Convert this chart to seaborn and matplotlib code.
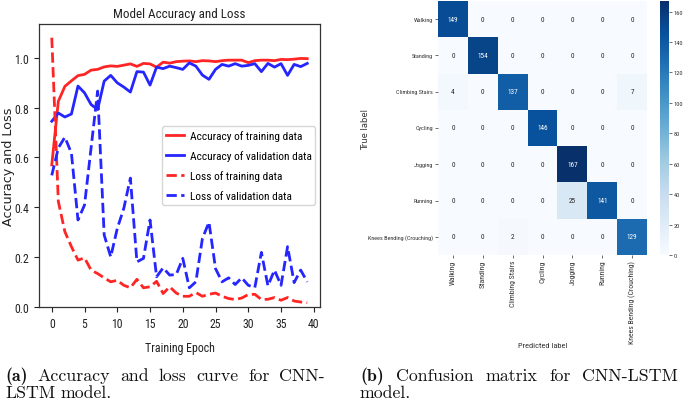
import matplotlib
matplotlib.use("Agg")
import matplotlib.pyplot as plt
from matplotlib import font_manager as fm
import numpy as np
import pandas as pd
import seaborn as sns

# ---------------- data ----------------
epochs = list(range(40))
train_acc = [0.57, 0.825, 0.885, 0.907, 0.928, 0.933, 0.950, 0.953, 0.963, 0.967,
             0.965, 0.970, 0.975, 0.965, 0.977, 0.975, 0.962, 0.982, 0.978, 0.984,
             0.986, 0.987, 0.984, 0.988, 0.987, 0.984, 0.988, 0.990, 0.990, 0.990,
             0.980, 0.988, 0.990, 0.990, 0.988, 0.993, 0.992, 0.994, 0.997, 0.996]
val_acc = [0.745, 0.778, 0.762, 0.774, 0.886, 0.859, 0.812, 0.792, 0.906, 0.929,
           0.899, 0.882, 0.862, 0.944, 0.942, 0.890, 0.962, 0.956, 0.966, 0.960,
           0.953, 0.979, 0.966, 0.930, 0.913, 0.953, 0.973, 0.966, 0.976, 0.966,
           0.969, 0.976, 0.944, 0.977, 0.962, 0.976, 0.929, 0.973, 0.964, 0.977]
train_loss = [1.08, 0.423, 0.302, 0.242, 0.188, 0.197, 0.148, 0.134, 0.117, 0.101,
              0.107, 0.087, 0.077, 0.111, 0.077, 0.081, 0.103, 0.054, 0.081, 0.056,
              0.043, 0.043, 0.058, 0.043, 0.051, 0.056, 0.043, 0.034, 0.030, 0.036,
              0.050, 0.051, 0.030, 0.031, 0.038, 0.027, 0.038, 0.024, 0.020, 0.017]
val_loss = [0.528, 0.638, 0.681, 0.617, 0.349, 0.409, 0.638, 0.866, 0.289, 0.201,
            0.315, 0.396, 0.517, 0.181, 0.195, 0.349, 0.121, 0.157, 0.128, 0.130,
            0.195, 0.077, 0.101, 0.275, 0.340, 0.154, 0.101, 0.117, 0.090, 0.117,
            0.087, 0.078, 0.219, 0.085, 0.148, 0.087, 0.242, 0.098, 0.148, 0.101]

classes = ["Walking", "Standing", "Climbing Stairs", "Cycling", "Jogging",
           "Running", "Knees Bending (Crouching)"]
cm_walking = [149, 0, 0, 0, 0, 0, 0]
cm_standing = [0, 154, 0, 0, 0, 0, 0]
cm_climbing = [4, 0, 137, 0, 0, 0, 7]
cm_cycling = [0, 0, 0, 146, 0, 0, 0]
cm_jogging = [0, 0, 0, 0, 167, 0, 0]
cm_running = [0, 0, 0, 0, 25, 141, 0]
cm_knees = [0, 0, 2, 0, 0, 0, 129]
cbar_ticks = [0, 20, 40, 60, 80, 100, 120, 140, 160]
x_ticks = [0, 5, 10, 15, 20, 25, 30, 35, 40]

# ---------------- fonts: look for a narrow sans face ----------------
narrow_family, narrow_stretch = None, "normal"
names = {f.name for f in fm.fontManager.ttflist}
for n in ["Liberation Sans Narrow", "DejaVu Sans Condensed", "Roboto Condensed",
          "Open Sans Condensed", "Noto Sans Condensed", "Arial Narrow"]:
    if n in names:
        narrow_family = n
        break
if narrow_family is None:
    for f in fm.fontManager.ttflist:
        if str(f.stretch) in ("condensed", "semi-condensed", "extra-condensed") \
                and f.style == "normal" and str(f.weight) in ("400", "normal"):
            narrow_family, narrow_stretch = f.name, f.stretch
            break
SANS = [narrow_family, "DejaVu Sans"] if narrow_family else ["DejaVu Sans"]
scale = 1.0 if narrow_family else 0.82
plt.rcParams["font.family"] = SANS
plt.rcParams["font.stretch"] = narrow_stretch

RED = "#ff2525"
BLUE = "#2525ff"

W, H = 685, 402
fig = plt.figure(figsize=(W / 100, H / 100), dpi=100)


def box(x0, y0, x1, y1):
    return [x0 / W, 1 - y1 / H, (x1 - x0) / W, (y1 - y0) / H]


# ---------------- left: curves ----------------
ax = fig.add_axes(box(39, 25, 320, 308))
sns.lineplot(x=epochs, y=train_acc, color=RED, lw=2, label="Accuracy of training data", ax=ax)
sns.lineplot(x=epochs, y=val_acc, color=BLUE, lw=2, label="Accuracy of validation data", ax=ax)
sns.lineplot(x=epochs, y=train_loss, color=RED, lw=2, linestyle="--", label="Loss of training data", ax=ax)
sns.lineplot(x=epochs, y=val_loss, color=BLUE, lw=2, linestyle="--", label="Loss of validation data", ax=ax)
ax.set_ylim(0, 1.135)
ax.set_xlim(-1.95, 40.95)
ax.set_xticks(x_ticks)
ax.set_yticks([0.0, 0.2, 0.4, 0.6, 0.8, 1.0])
ax.set_yticklabels(["0.0", "0.2", "0.4", "0.6", "0.8", "1.0"])
ax.tick_params(labelsize=8.5 * scale, length=3.5, width=0.8, colors="#222222")
for s in ax.spines.values():
    s.set_color("#333333")
    s.set_linewidth(0.9)
ax.set_title("Model Accuracy and Loss", fontsize=9.4 * scale, pad=5, color="#222222")
ax.set_xlabel("Training Epoch", fontsize=8.6 * scale, labelpad=8, color="#222222")
ax.set_ylabel("Accuracy and Loss", fontsize=9.2, family="DejaVu Sans",
              fontstretch="normal", color="#222222")
ax.yaxis.set_label_coords(-(39 - 15.5) / 281, 0.5)
leg = ax.legend(loc="center right", fontsize=8.2 * scale, frameon=True, borderpad=0.35,
                handlelength=1.65, handletextpad=0.45, labelspacing=0.8, fancybox=True,
                borderaxespad=0.4)
leg.get_frame().set_edgecolor("#cccccc")

# ---------------- right: confusion matrix ----------------
cm = pd.DataFrame([cm_walking, cm_standing, cm_climbing, cm_cycling,
                   cm_jogging, cm_running, cm_knees], index=classes, columns=classes)
hax = fig.add_axes(box(438, 2, 647, 256))
cax = fig.add_axes(box(660, 2, 669, 256))
sns.heatmap(cm, annot=True, fmt="d", cmap="Blues", ax=hax, cbar_ax=cax,
            vmin=0, vmax=167, annot_kws={"size": 5.2 * scale})
hax.tick_params(labelsize=4.4 * scale, length=2, width=0.5, pad=1.5, colors="#333333")
hax.set_xticklabels(classes, rotation=90, fontsize=5.6 * scale)
hax.set_yticklabels(classes, rotation=0)
hax.set_ylabel("True label", fontsize=6, family="DejaVu Sans", fontstretch="normal",
               color="#333333")
hax.yaxis.set_label_coords(-(438 - 370) / 209, 0.5)
hax.set_xlabel("Predicted label", fontsize=6 * scale, color="#333333")
hax.xaxis.set_label_coords(0.5, -(343 - 256) / 254)
cax.set_yticks(cbar_ticks)
cax.tick_params(labelsize=4.6 * scale, length=2, width=0.5, pad=1.5, colors="#333333")
for s in cax.spines.values():
    s.set_visible(False)

# ---------------- captions ----------------
renderer = fig.canvas.get_renderer()
CAP_SIZE = 12.8


def caption(words, x0, x1, base, justify=True):
    arts = []
    for w, bold in words:
        t = fig.text(0, 1 - base / H, w, fontsize=CAP_SIZE, va="baseline", ha="left",
                     family="cmb10" if bold else "cmr10", fontstretch="normal",
                     color="#111111")
        arts.append(t)
    widths = [t.get_window_extent(renderer).width for t in arts]
    if justify and len(arts) > 1:
        gap = (x1 - x0 - sum(widths)) / (len(arts) - 1)
    else:
        gap = 5
    x = x0
    for t, wd in zip(arts, widths):
        t.set_x(x / W)
        x += wd + gap


caption([("(a)", True), ("Accuracy", False), ("and", False), ("loss", False),
         ("curve", False), ("for", False), ("CNN-", False)], 5, 325, 381)
caption([("LSTM", False), ("model.", False)], 5, 0, 398, justify=False)
caption([("(b)", True), ("Confusion", False), ("matrix", False), ("for", False),
         ("CNN-LSTM", False)], 360, 678, 381)
caption([("model.", False)], 360, 0, 398, justify=False)

fig.savefig("out.png", dpi=100)
